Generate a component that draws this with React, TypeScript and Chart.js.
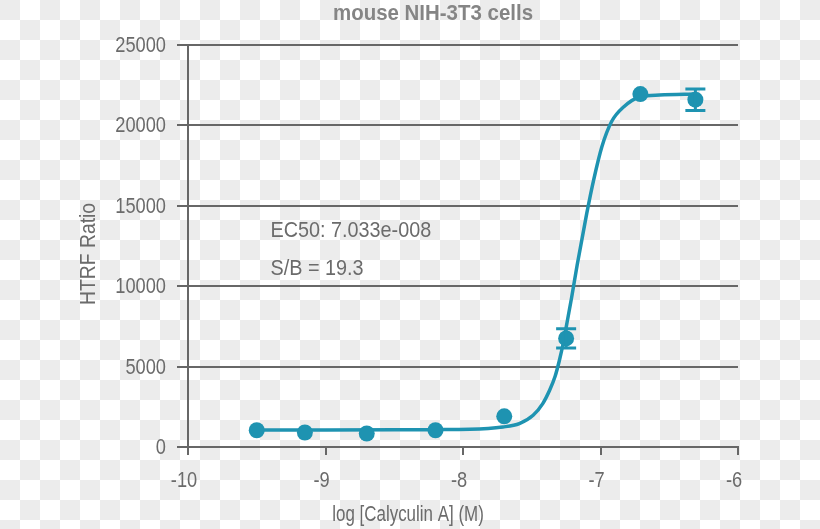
import React, { useEffect, useRef } from "react";
import { Chart, registerables } from "chart.js";

Chart.register(...registerables);

// ---- data ----
const chartTitle = "mouse NIH-3T3 cells";
const xAxisTitle = "log [Calyculin A] (M)";
const yAxisTitle = "HTRF Ratio";
const annotationLines = ["EC50: 7.033e-008", "S/B = 19.3"];

const logConc = [-9.5, -9.15, -8.7, -8.2, -7.7, -7.25, -6.71, -6.31];
const htrfMean = [1040, 900, 840, 1040, 1910, 6750, 21950, 21600];
const htrfErr = [0, 0, 0, 0, 0, 600, 0, 670];

const fitX = [-9.5, -9.0, -8.5, -8.2, -7.95, -7.71, -7.59, -7.49, -7.42, -7.37, -7.33, -7.3, -7.27, -7.24, -7.21, -7.17, -7.1, -7.05, -6.99, -6.92, -6.83, -6.71, -6.57, -6.3];
const fitY = [1060, 1060, 1065, 1080, 1100, 1245, 1456, 1973, 2700, 3529, 4400, 5350, 6500, 7900, 9300, 11300, 14527, 16599, 18672, 20228, 21162, 21784, 21890, 21950];

const xTicks = [-10, -9, -8, -7, -6];
const yTicks = [0, 5000, 10000, 15000, 20000, 25000];

const FONT = "'Liberation Sans', Arial, sans-serif";
const TEAL = "#1e93b1";
const AXIS = "#676767";
const TEXT = "#6b6b6b";

function drawText(
  ctx: CanvasRenderingContext2D,
  text: string,
  x: number,
  y: number,
  align: "left" | "center" | "right",
  font: string,
  sx: number
) {
  ctx.save();
  ctx.translate(x, y);
  ctx.scale(sx, 1);
  ctx.font = font;
  ctx.textAlign = align;
  ctx.textBaseline = "middle";
  ctx.fillText(text, 0, 0);
  ctx.restore();
}

export default function App() {
  const ref = useRef<HTMLCanvasElement | null>(null);

  useEffect(() => {
    if (!ref.current) return;

    const errorBars = {
      id: "errorBars",
      afterDatasetsDraw(chart: any) {
        const { ctx, scales } = chart;
        const xs = scales.x;
        const ys = scales.y;
        ctx.save();
        ctx.strokeStyle = TEAL;
        ctx.lineWidth = 3;
        logConc.forEach((x, i) => {
          const e = htrfErr[i];
          if (!e) return;
          const px = xs.getPixelForValue(x);
          const top = ys.getPixelForValue(htrfMean[i] + e);
          const bot = ys.getPixelForValue(htrfMean[i] - e);
          ctx.beginPath();
          ctx.moveTo(px, top);
          ctx.lineTo(px, bot);
          ctx.moveTo(px - 10, top);
          ctx.lineTo(px + 10, top);
          ctx.moveTo(px - 10, bot);
          ctx.lineTo(px + 10, bot);
          ctx.stroke();
        });
        ctx.restore();
      },
    };

    const texts = {
      id: "texts",
      afterDraw(chart: any) {
        const { ctx, scales } = chart;
        const xs = scales.x;
        const ys = scales.y;
        ctx.save();
        ctx.fillStyle = TEXT;
        // tick labels (through the scales)
        const tickFont = `22px ${FONT}`;
        yTicks.forEach((v) => {
          drawText(ctx, String(v), 166, ys.getPixelForValue(v) + 1, "right", tickFont, 0.83);
        });
        xTicks.forEach((v) => {
          drawText(ctx, String(v), xs.getPixelForValue(v) - 4, 481, "center", tickFont, 0.83);
        });
        // title
        ctx.fillStyle = "#858585";
        drawText(ctx, chartTitle, 433, 14, "center", `bold 22px ${FONT}`, 0.93);
        // axis titles
        ctx.fillStyle = TEXT;
        drawText(ctx, xAxisTitle, 408, 515, "center", `22px ${FONT}`, 0.77);
        ctx.save();
        ctx.translate(89, 254);
        ctx.rotate(-Math.PI / 2);
        drawText(ctx, yAxisTitle, 0, 0, "center", `22px ${FONT}`, 0.88);
        ctx.restore();
        // annotations
        const ax = xs.getPixelForValue(-9.4);
        drawText(ctx, annotationLines[0], ax, ys.getPixelForValue(13450), "left", `22px ${FONT}`, 0.9);
        drawText(ctx, annotationLines[1], ax, ys.getPixelForValue(11100), "left", `22px ${FONT}`, 0.9);
        ctx.restore();
      },
    };

    const chart = new Chart(ref.current, {
      type: "scatter",
      data: {
        datasets: [
          {
            label: "data",
            data: logConc.map((x, i) => ({ x, y: htrfMean[i] })),
            pointRadius: 8,
            pointBackgroundColor: TEAL,
            pointBorderWidth: 0,
            showLine: false,
            order: 0,
          },
          {
            label: "fit",
            data: fitX.map((x, i) => ({ x, y: fitY[i] })),
            showLine: true,
            borderColor: TEAL,
            borderWidth: 3.5,
            pointRadius: 0,
            cubicInterpolationMode: "monotone",
            order: 1,
          },
        ],
      },
      options: {
        animation: false,
        responsive: false,
        layout: { padding: { left: 0, top: 45, right: 82, bottom: 0 } },
        plugins: { legend: { display: false }, tooltip: { enabled: false }, title: { display: false } },
        scales: {
          x: {
            type: "linear",
            min: -10,
            max: -6,
            afterBuildTicks: (s: any) => {
              s.ticks = xTicks.map((v) => ({ value: v }));
            },
            afterFit: (s: any) => {
              s.height = 82;
            },
            grid: { drawOnChartArea: false, drawTicks: true, tickLength: 8, color: AXIS, lineWidth: 2 },
            border: { display: true, color: AXIS, width: 2 },
            ticks: { display: false },
          },
          y: {
            type: "linear",
            min: 0,
            max: 25000,
            afterBuildTicks: (s: any) => {
              s.ticks = yTicks.map((v) => ({ value: v }));
            },
            afterFit: (s: any) => {
              s.width = 188;
            },
            grid: { drawOnChartArea: true, drawTicks: true, tickLength: 11, color: AXIS, lineWidth: 2 },
            border: { display: true, color: AXIS, width: 2 },
            ticks: { display: false },
          },
        },
      },
      plugins: [errorBars, texts],
    });
    return () => chart.destroy();
  }, []);

  return (
    <div
      style={{
        position: "fixed",
        left: 0,
        top: 0,
        width: 820,
        height: 529,
        backgroundColor: "#fff",
        backgroundImage: "conic-gradient(#fff 25%, #ececec 0 50%, #fff 0 75%, #ececec 0)",
        backgroundSize: "40px 40px",
        backgroundPosition: "0 0",
      }}
    >
      <canvas ref={ref} width={820} height={529} style={{ display: "block", width: 820, height: 529 }} />
    </div>
  );
}
